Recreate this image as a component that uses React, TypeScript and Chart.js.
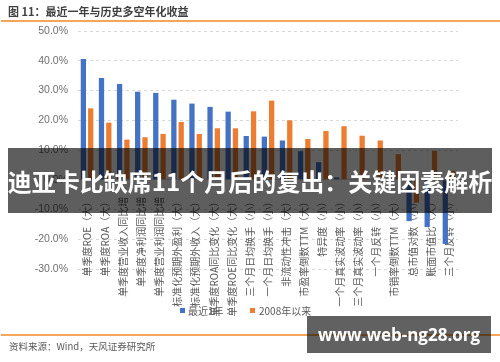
import React, { useEffect, useRef } from "react";
import { Chart, registerables } from "chart.js";

Chart.register(...registerables);

const categories: string[] = [
  "单季度ROE（大）",
  "单季度ROA（大）",
  "单季度营业收入同比增",
  "单季度净利润同比增",
  "单季度营业利润同比增",
  "标准化预期外盈利（大）",
  "标准化预期外收入（大）",
  "单季度ROA同比变化（大）",
  "单季度ROE同比变化（大）",
  "三个月日均换手（小）",
  "一个月日均换手（小）",
  "非流动性冲击（大）",
  "市盈率倒数TTM（大）",
  "特异度（小）",
  "一个月真实波动率（小）",
  "三个月真实波动率（小）",
  "一个月反转（小）",
  "市销率倒数TTM（大）",
  "总市值对数（小）",
  "账面市值比（大）",
  "三个月反转（小）",
];

const recentYear: number[] = [
  40.6, 34.2, 32.2, 29.6, 29.2, 26.9, 25.6, 24.5, 22.9, 14.7, 14.5, 13.2, 9.6,
  5.9, 0.8, 0, 0, 0, -13.9, -15.9, -21.6,
];

const since2008: number[] = [
  24.0, 19.2, 13.5, 14.3, 15.4, 19.4, 15.4, 17.3, 17.3, 23.0, 26.6, 20.0, 13.7,
  16.4, 18.0, 14.8, 13.2, 8.6, -7.7, 9.7, 3.0,
];

const seriesNames: string[] = ["最近1年", "2008年以来"];
const yMin = -30;
const yMax = 50;
const yStep = 10;

const CJK = "'Noto Sans CJK SC', 'Noto Sans', sans-serif";

export default function App() {
  const ref = useRef<HTMLCanvasElement>(null);

  useEffect(() => {
    document.body.style.margin = "0";
    const chart = new Chart(ref.current!, {
      type: "bar",
      data: {
        labels: categories,
        datasets: [
          {
            label: seriesNames[0],
            data: recentYear,
            backgroundColor: "#4472C4",
            categoryPercentage: 0.81,
            barPercentage: 0.72,
          },
          {
            label: seriesNames[1],
            data: since2008,
            backgroundColor: "#ED7D31",
            categoryPercentage: 0.81,
            barPercentage: 0.72,
          },
        ],
      },
      options: {
        responsive: false,
        animation: false,
        devicePixelRatio: 1,
        layout: { padding: { left: 0, right: 42, top: 31, bottom: 93 } },
        plugins: {
          legend: { display: false },
          tooltip: { enabled: false },
        },
        scales: {
          x: {
            position: { y: 0 } as any,
            grid: { display: false, drawTicks: false },
            border: { display: true, color: "#D9D9D9" },
            ticks: {
              autoSkip: false,
              minRotation: 90,
              maxRotation: 90,
              padding: 17,
              color: "#595959",
              font: { size: 10, family: CJK },
            },
          },
          y: {
            min: yMin,
            max: yMax,
            ticks: {
              stepSize: yStep,
              padding: 10,
              color: "#6F6F6F",
              font: { size: 10.5, family: "'Liberation Sans', Arial, sans-serif" },
              callback: (v: any) => Number(v).toFixed(1) + "%",
            },
            grid: { color: "#D9D9D9", drawTicks: false, lineWidth: 1 },
            border: { display: false, dash: [3, 3] },
            afterFit: (s: any) => {
              s.width = 78;
            },
          },
        },
      },
    });
    return () => chart.destroy();
  }, []);

  return (
    <div
      style={{
        position: "absolute",
        left: 0,
        top: 0,
        width: 500,
        height: 362,
        background: "#fff",
        overflow: "hidden",
        fontFamily: CJK,
      }}
    >
      <canvas
        ref={ref}
        width={500}
        height={362}
        style={{ position: "absolute", left: 0, top: 0 }}
      />
      <div
        style={{
          position: "absolute",
          left: 8,
          top: 3,
          fontSize: 11,
          fontWeight: 700,
          color: "#3F3F3F",
          lineHeight: "16px",
          whiteSpace: "nowrap",
        }}
      >
        图 11：最近一年与历史多空年化收益
      </div>
      <div
        style={{
          position: "absolute",
          left: 1,
          top: 20,
          width: 499,
          height: 1.5,
          background: "#F5A65B",
        }}
      />
      <div
        style={{
          position: "absolute",
          left: 1,
          top: 334,
          width: 499,
          height: 1.5,
          background: "#F5A65B",
        }}
      />
      <div
        style={{
          position: "absolute",
          left: 9,
          top: 339,
          fontSize: 9.5,
          color: "#595959",
          lineHeight: "14px",
          whiteSpace: "nowrap",
        }}
      >
        资料来源：Wind，天风证券研究所
      </div>
      {/* legend */}
      <div
        style={{
          position: "absolute",
          left: 180,
          top: 308,
          width: 5,
          height: 5,
          background: "#4472C4",
        }}
      />
      <div
        style={{
          position: "absolute",
          left: 188,
          top: 303,
          fontSize: 10,
          color: "#595959",
          lineHeight: "16px",
          whiteSpace: "nowrap",
        }}
      >
        {seriesNames[0]}
      </div>
      <div
        style={{
          position: "absolute",
          left: 250,
          top: 308,
          width: 5,
          height: 5,
          background: "#ED7D31",
        }}
      />
      <div
        style={{
          position: "absolute",
          left: 259,
          top: 303,
          fontSize: 10,
          color: "#595959",
          lineHeight: "16px",
          whiteSpace: "nowrap",
        }}
      >
        {seriesNames[1]}
      </div>
      {/* banner overlay */}
      <div
        style={{
          position: "absolute",
          left: 8,
          top: 148,
          width: 484,
          height: 65,
          background: "rgba(0,0,0,0.63)",
          display: "flex",
          alignItems: "center",
          justifyContent: "center",
          color: "#fff",
          fontSize: 24,
          fontWeight: 700,
          whiteSpace: "nowrap",
        }}
      >
        迪亚卡比缺席11个月后的复出：关键因素解析
      </div>
      {/* watermark */}
      <div
        style={{
          position: "absolute",
          left: 307,
          top: 316,
          width: 184,
          height: 37,
          background: "rgba(0,0,0,0.62)",
          display: "flex",
          alignItems: "center",
          justifyContent: "center",
          color: "#fff",
          fontSize: 17,
          fontWeight: 700,
          whiteSpace: "nowrap",
          fontFamily: "'Open Sans', 'Noto Sans', sans-serif",
        }}
      >
        www.web-ng28.org
      </div>
    </div>
  );
}
